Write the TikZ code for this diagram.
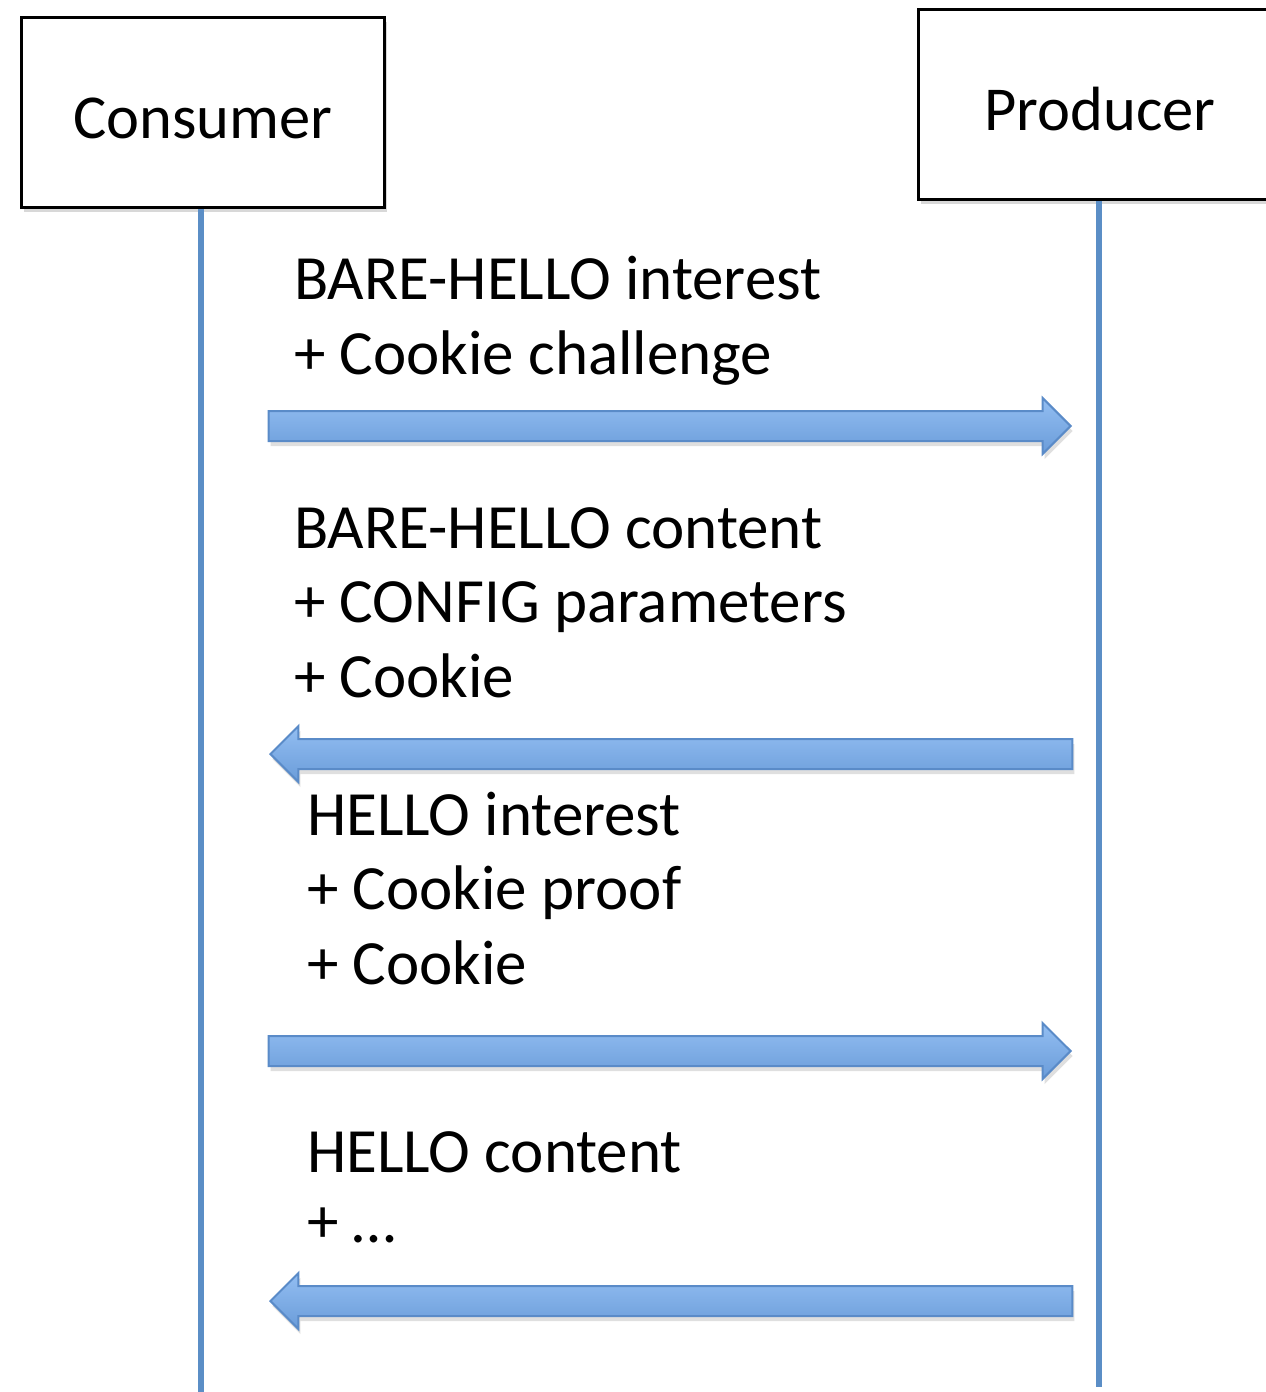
\documentclass[tikz,border=0pt]{standalone}
\usepackage{fontspec}
\setmainfont{Carlito}
\usetikzlibrary{shapes.arrows,shadows,positioning}
\definecolor{lifeblue}{HTML}{5B8EC6}
\definecolor{arrowtop}{HTML}{93BEF2}
\definecolor{arrowbot}{HTML}{6A9CD9}
\definecolor{arrowedge}{HTML}{5A8BC8}

\begin{document}
\begin{tikzpicture}[x=1pt,y=-1pt]
\tikzset{party/.style={rectangle,draw=black,line width=3pt,fill=white,minimum width=363pt,minimum height=190pt,text height=51pt,text depth=0pt,inner sep=0pt,font=\fontsize{62.5}{75}\selectfont,drop shadow={shadow xshift=2pt,shadow yshift=-4pt,opacity=.3}},
  lifeline/.style={draw=lifeblue,line width=6pt},
  msg/.style={single arrow,draw=arrowedge,line width=2pt,top color=arrowtop,bottom color=arrowbot,minimum height=802pt,minimum width=0pt,inner xsep=0pt,inner ysep=14pt,single arrow head extend=13pt,single arrow tip angle=90,anchor=tip,drop shadow={shadow xshift=2pt,shadow yshift=-5pt,opacity=.25}},
  msgleft/.style={msg,shape border rotate=180},
  lbl/.style={anchor=base west,inner sep=0pt,font=\fontsize{63}{75}\selectfont}}
\fill[white] (0,0) rectangle (1266,1392);
\useasboundingbox (0,0) rectangle (1266,1392);
% parties
\node[party] (cons) at (203,112.5) {Consumer};
\node[party] (prod) at (1100,104.5) {Producer};
\coordinate (consend) at (201,1392);
\coordinate (prodend) at (1099,1387);
\draw[lifeline] (cons.south -| consend) -- (consend);
\draw[lifeline] (prod.south -| prodend) -- (prodend);
% messages
\node[msg] (m1) at (1072,426) {};
\node[msgleft] (m2) at (269,754) {};
\node[msg] (m3) at (1072,1051) {};
\node[msgleft] (m4) at (269,1301) {};
% labels
\node[lbl] (t1a) at (294,299) {BARE-HELLO interest};
\node[lbl] (t1b) at (294,374) {+ Cookie challenge};
\node[lbl] (t2a) at (294,548) {BARE-HELLO content};
\node[lbl] (t2b) at (294,622) {+ CONFIG parameters};
\node[lbl] (t2c) at (294,697) {+ Cookie};
\node[lbl] (t3a) at (307,835) {HELLO interest};
\node[lbl] (t3b) at (307,909) {+ Cookie proof};
\node[lbl] (t3c) at (307,984) {+ Cookie};
\node[lbl] (t4a) at (307,1172) {HELLO content};
\node[lbl] (t4b) at (307,1242) {+ …};
\end{tikzpicture}
\end{document}
